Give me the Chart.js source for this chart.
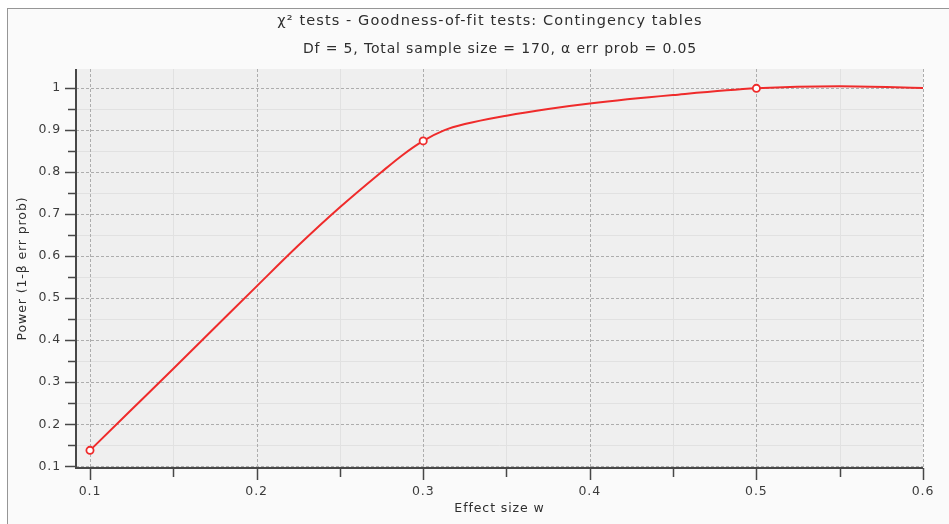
<!DOCTYPE html>
<html>
<head>
<meta charset="utf-8">
<title>Power plot</title>
<script src="https://cdn.jsdelivr.net/npm/chart.js@4.4.1/dist/chart.umd.min.js"></script>
<style>
    html, body { margin: 0; padding: 0; background: #ffffff; }
    #wrap { position: relative; width: 949px; height: 524px; overflow: hidden; }
    #frame {
        position: absolute; left: 7px; top: 8px; right: -2px; bottom: -2px;
        border-top: 1px solid #969696; border-left: 1px solid #969696;
        background: #fafafa;
    }
    #powerChart { position: absolute; left: 0; top: 0; }
</style>
</head>
<body>
<div id="wrap">
    <div id="frame"></div>
    <canvas id="powerChart" width="949" height="524"></canvas>
</div>
<script>
const titulo = 'χ² tests - Goodness-of-fit tests: Contingency tables';
const subtitulo = 'Df = 5, Total sample size = 170, α err prob = 0.05';

// power curve, effect size w -> 1-β
const efecto = [0.1, 0.125, 0.15, 0.175, 0.2, 0.225, 0.25, 0.275, 0.2875, 0.3, 0.3125, 0.325, 0.35, 0.375, 0.4, 0.45, 0.5, 0.55, 0.6];
const potencia = [0.138, 0.235, 0.332, 0.430, 0.528, 0.625, 0.716, 0.800, 0.840, 0.874, 0.899, 0.914, 0.934, 0.950, 0.963, 0.983, 0.999, 1.004, 1.000];

// computed points shown with markers
const efectoMarcas = [0.1, 0.3, 0.5];
const potenciaMarcas = [0.138, 0.874, 0.999];

const xMayores = [0.1, 0.2, 0.3, 0.4, 0.5, 0.6];
const xMenores = [0.15, 0.25, 0.35, 0.45, 0.55];
const xEtiquetas = ['0.1', '0.2', '0.3', '0.4', '0.5', '0.6'];

const yMayores = [0.1, 0.2, 0.3, 0.4, 0.5, 0.6, 0.7, 0.8, 0.9, 1];
const yMenores = [0.15, 0.25, 0.35, 0.45, 0.55, 0.65, 0.75, 0.85, 0.95];
const yEtiquetas = ['0.1', '0.2', '0.3', '0.4', '0.5', '0.6', '0.7', '0.8', '0.9', '1'];

const rojo = '#ef2b2b';
const fuente = '"DejaVu Sans", "Noto Sans", sans-serif';

function etiqueta(valor, mayores, etiquetas) {
    const i = mayores.findIndex((m) => Math.abs(m - valor) < 1e-6);
    return i === -1 ? '' : etiquetas[i];
}

function listaTicks(mayores, menores) {
    return mayores.concat(menores).sort((a, b) => a - b).map((v) => ({ value: v }));
}

// background, grid, axes and tick marks of the plot area
const marcoGrafico = {
    id: 'marcoGrafico',
    beforeDraw(chart) {
        // wider text, all labels
        chart.ctx.letterSpacing = '0.9px';
    },
    beforeDatasetsDraw(chart) {
        const { ctx, chartArea: a, scales: { x, y } } = chart;
        ctx.save();
        ctx.fillStyle = '#efefef';
        ctx.fillRect(a.left, a.top, a.right - a.left, a.bottom - a.top);

        ctx.lineWidth = 1;
        ctx.strokeStyle = '#e1e1e1';
        ctx.setLineDash([]);
        xMenores.forEach((v) => {
            const px = Math.round(x.getPixelForValue(v)) + 0.5;
            ctx.beginPath(); ctx.moveTo(px, a.top); ctx.lineTo(px, a.bottom); ctx.stroke();
        });
        yMenores.forEach((v) => {
            const py = Math.round(y.getPixelForValue(v)) + 0.5;
            ctx.beginPath(); ctx.moveTo(a.left, py); ctx.lineTo(a.right, py); ctx.stroke();
        });

        ctx.strokeStyle = '#adadad';
        ctx.setLineDash([3, 2]);
        xMayores.forEach((v) => {
            const px = Math.round(x.getPixelForValue(v)) + 0.5;
            ctx.beginPath(); ctx.moveTo(px, a.top); ctx.lineTo(px, a.bottom); ctx.stroke();
        });
        yMayores.forEach((v) => {
            const py = Math.round(y.getPixelForValue(v)) + 0.5;
            ctx.beginPath(); ctx.moveTo(a.left, py); ctx.lineTo(a.right, py); ctx.stroke();
        });

        // axis lines
        ctx.setLineDash([]);
        ctx.strokeStyle = '#474747';
        ctx.lineWidth = 2;
        ctx.beginPath();
        ctx.moveTo(a.left, a.top);
        ctx.lineTo(a.left, a.bottom);
        ctx.lineTo(a.right, a.bottom);
        ctx.stroke();

        // tick marks
        ctx.lineWidth = 1.5;
        xMayores.forEach((v) => {
            const px = Math.round(x.getPixelForValue(v)) + 0.5;
            ctx.beginPath(); ctx.moveTo(px, a.bottom); ctx.lineTo(px, a.bottom + 12); ctx.stroke();
        });
        xMenores.forEach((v) => {
            const px = Math.round(x.getPixelForValue(v)) + 0.5;
            ctx.beginPath(); ctx.moveTo(px, a.bottom); ctx.lineTo(px, a.bottom + 9); ctx.stroke();
        });
        yMayores.forEach((v) => {
            const py = Math.round(y.getPixelForValue(v)) + 0.5;
            ctx.beginPath(); ctx.moveTo(a.left, py); ctx.lineTo(a.left - 11, py); ctx.stroke();
        });
        yMenores.forEach((v) => {
            const py = Math.round(y.getPixelForValue(v)) + 0.5;
            ctx.beginPath(); ctx.moveTo(a.left, py); ctx.lineTo(a.left - 8, py); ctx.stroke();
        });
        ctx.restore();
    },
    afterDraw(chart) {
        const ctx = chart.ctx;
        ctx.save();
        ctx.fillStyle = '#2e2e2e';
        ctx.textAlign = 'center';
        ctx.textBaseline = 'middle';
        ctx.letterSpacing = '1.1px';
        ctx.font = '14.5px ' + fuente;
        ctx.fillText(titulo, 490, 21);
        ctx.letterSpacing = '0.85px';
        ctx.font = '14px ' + fuente;
        ctx.fillText(subtitulo, 500, 49);
        ctx.restore();
    }
};

const ctx = document.getElementById('powerChart');

new Chart(ctx, {
    type: 'scatter',
    data: {
        datasets: [{
            label: 'Power',
            data: efecto.map((w, i) => ({ x: w, y: potencia[i] })),
            showLine: true,
            borderColor: rojo,
            borderWidth: 2,
            pointRadius: 0,
            cubicInterpolationMode: 'monotone',
            order: 2
        }, {
            label: 'Points',
            data: efectoMarcas.map((w, i) => ({ x: w, y: potenciaMarcas[i] })),
            showLine: false,
            pointRadius: 3.6,
            pointBorderWidth: 1.8,
            pointBorderColor: rojo,
            pointBackgroundColor: '#ffffff',
            order: 1
        }]
    },
    options: {
        responsive: false,
        animation: false,
        devicePixelRatio: 1,
        layout: { padding: { top: 69, left: 8, right: 26, bottom: 0 } },
        plugins: {
            legend: { display: false },
            tooltip: { enabled: false },
            title: { display: false }
        },
        scales: {
            x: {
                type: 'linear',
                min: 0.0916,
                max: 0.6,
                afterBuildTicks: (scale) => { scale.ticks = listaTicks(xMayores, xMenores); },
                afterFit: (scale) => { scale.height = 56; },
                grid: { display: false, drawTicks: false },
                border: { display: false },
                ticks: {
                    autoSkip: false,
                    maxRotation: 0,
                    padding: 16,
                    color: '#3c3c3c',
                    font: { family: fuente, size: 12.5 },
                    callback: (v) => etiqueta(v, xMayores, xEtiquetas)
                },
                title: {
                    display: true,
                    text: 'Effect size w',
                    color: '#2e2e2e',
                    font: { family: fuente, size: 12.5 },
                    padding: { top: 0, bottom: 8 }
                }
            },
            y: {
                type: 'linear',
                min: 0.096,
                max: 1.045,
                afterBuildTicks: (scale) => { scale.ticks = listaTicks(yMayores, yMenores); },
                afterFit: (scale) => { scale.width = 68; },
                grid: { display: false, drawTicks: false },
                border: { display: false },
                ticks: {
                    autoSkip: false,
                    padding: 15,
                    color: '#3c3c3c',
                    font: { family: fuente, size: 12.5 },
                    callback: (v) => etiqueta(v, yMayores, yEtiquetas)
                },
                title: {
                    display: true,
                    text: 'Power (1-β err prob)',
                    color: '#2e2e2e',
                    font: { family: fuente, size: 12.5 },
                    padding: { top: 7, bottom: 0 }
                }
            }
        }
    },
    plugins: [marcoGrafico]
});
</script>
</body>
</html>
